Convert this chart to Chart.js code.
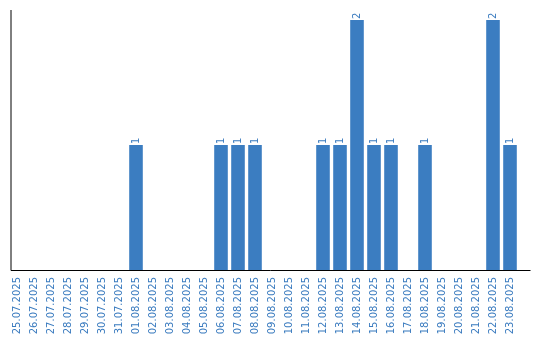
<!DOCTYPE html>
<html>
<head>
<meta charset="utf-8">
<script src="https://cdn.jsdelivr.net/npm/chart.js@4"></script>
<style>
  html, body { margin: 0; padding: 0; background: #fff; }
  #wrap { width: 540px; height: 340px; }
</style>
</head>
<body>
<div id="wrap"><canvas id="grafico" width="540" height="340"></canvas></div>
<script>
const datas = [
  '25.07.2025', '26.07.2025', '27.07.2025', '28.07.2025', '29.07.2025', '30.07.2025',
  '31.07.2025', '01.08.2025', '02.08.2025', '03.08.2025', '04.08.2025', '05.08.2025',
  '06.08.2025', '07.08.2025', '08.08.2025', '09.08.2025', '10.08.2025', '11.08.2025',
  '12.08.2025', '13.08.2025', '14.08.2025', '15.08.2025', '16.08.2025', '17.08.2025',
  '18.08.2025', '19.08.2025', '20.08.2025', '21.08.2025', '22.08.2025', '23.08.2025'
];
const valores = [
  0, 0, 0, 0, 0, 0,
  0, 1, 0, 0, 0, 0,
  1, 1, 1, 0, 0, 0,
  1, 1, 2, 1, 1, 0,
  1, 0, 0, 0, 2, 1
];

const corBarra = '#3b7dc1';
const corTexto = '#3a7bbf';
const fonte = '"DejaVu Sans", Verdana, sans-serif';

// eixos desenhados à mão para acompanhar a referência
const eixos = {
  id: 'eixos',
  afterDraw(chart) {
    const { ctx, chartArea } = chart;
    const x0 = chartArea.left + 2;
    ctx.save();
    ctx.strokeStyle = '#000';
    ctx.lineWidth = 1;
    ctx.beginPath();
    ctx.moveTo(x0 + 0.5, chartArea.top);
    ctx.lineTo(x0 + 0.5, chartArea.bottom + 0.5);
    ctx.lineTo(chartArea.right + 12, chartArea.bottom + 0.5);
    ctx.stroke();
    ctx.restore();
  }
};

// rótulos de valor acima das barras, girados
const rotulos = {
  id: 'rotulos',
  afterDatasetsDraw(chart) {
    const { ctx } = chart;
    const meta = chart.getDatasetMeta(0);
    ctx.save();
    ctx.fillStyle = corTexto;
    ctx.font = '10px ' + fonte;
    ctx.textAlign = 'left';
    ctx.textBaseline = 'middle';
    meta.data.forEach((barra, i) => {
      const v = valores[i];
      if (!v) return;
      ctx.save();
      ctx.translate(barra.x, barra.y - 1);
      ctx.rotate(-Math.PI / 2);
      ctx.fillText(String(v), 0, 0);
      ctx.restore();
    });
    ctx.restore();
  }
};

new Chart(document.getElementById('grafico'), {
  type: 'bar',
  data: {
    labels: datas,
    datasets: [{
      data: valores,
      backgroundColor: corBarra,
      borderWidth: 0,
      barPercentage: 0.8,
      categoryPercentage: 1
    }]
  },
  options: {
    responsive: false,
    animation: false,
    layout: { padding: { left: 8.5, right: 21.5, top: 10, bottom: 0 } },
    plugins: { legend: { display: false }, tooltip: { enabled: false } },
    scales: {
      x: {
        grid: { display: false, drawTicks: false },
        border: { display: false },
        ticks: {
          color: corTexto,
          font: { family: fonte, size: 10 },
          minRotation: 90,
          maxRotation: 90,
          autoSkip: false,
          padding: 7
        },
        afterFit(scale) { scale.height = 70; }
      },
      y: {
        display: false,
        min: 0,
        max: Math.max(...valores) * 1.04
      }
    }
  },
  plugins: [eixos, rotulos]
});
</script>
</body>
</html>
